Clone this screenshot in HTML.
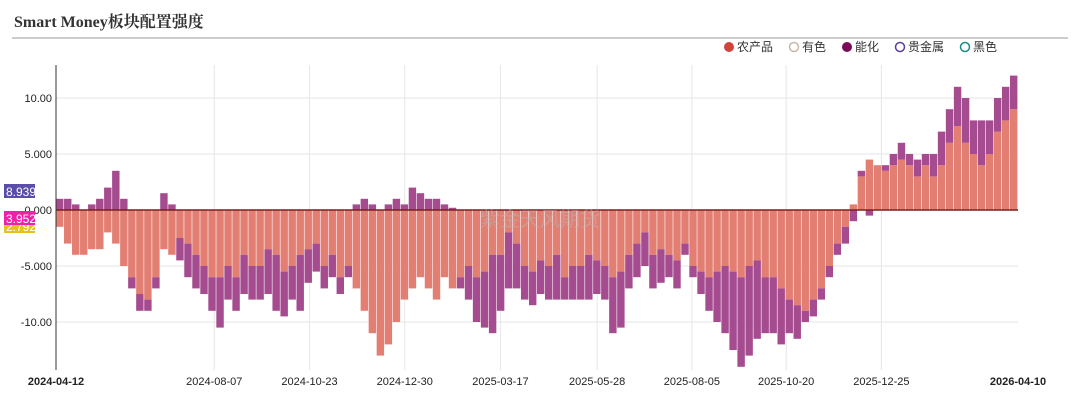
<!DOCTYPE html>
<html><head><meta charset="utf-8"><style>
body{margin:0;background:#fff;width:1080px;height:408px;overflow:hidden;font-family:"Liberation Sans","Noto Sans CJK SC",sans-serif}
</style></head><body>
<svg width="1080" height="408" id="chart" xmlns="http://www.w3.org/2000/svg">
<text x="14" y="27" font-size="16" font-weight="bold" fill="#333" font-family="Liberation Serif,Noto Serif CJK SC,serif">Smart Money板块配置强度</text>
<line x1="12" y1="38" x2="1068" y2="38" stroke="#999"/>
<g id="legend" font-size="12" fill="#333">
<g><circle cx="729" cy="47" r="5" fill="#d0443a"/><text x="737" y="51">农产品</text></g>
<g><circle cx="794" cy="47" r="4.5" fill="none" stroke="#c9b8a8" stroke-width="1.5"/><text x="802" y="51">有色</text></g>
<g><circle cx="847" cy="47" r="5" fill="#7a0a5a"/><text x="855" y="51">能化</text></g>
<g><circle cx="900" cy="47" r="4.5" fill="none" stroke="#5a3fa0" stroke-width="1.5"/><text x="908" y="51">贵金属</text></g>
<g><circle cx="965" cy="47" r="4.5" fill="none" stroke="#1a8a8a" stroke-width="1.5"/><text x="973" y="51">黑色</text></g>
</g>
<g id="grid"></g><g id="bars"></g><g id="axes"></g>
<text x="540" y="226" font-size="20" fill="#bbb" fill-opacity="0.45" text-anchor="middle">紫金天风期货</text>
</svg>
<script>
const yTicks=[10,5,0,-5,-10];
const yTickLabels=["10.00","5.000","0.000","-5.000","-10.00"];
const xTickLabels=["2024-04-12","2024-08-07","2024-10-23","2024-12-30","2025-03-17","2025-05-28","2025-08-05","2025-10-20","2025-12-25","2026-04-10"];
const xTickPos=[0,0.1645,0.2635,0.3625,0.462,0.5625,0.661,0.759,0.858,1];
const agri=[-1.5,-3,-4,-4,-3.5,-3.5,-2,-3,-5,-6,-7.5,-8,-6,-3.5,-4,-2.5,-3,-4,-5,-6,-6,-5,-6,-4,-5,-5,-3.5,-4,-5.5,-5,-4,-3.5,-3,-5,-4,-6,-5,-7,-9,-11,-13,-12,-10,-8,-7,-6,-7,-8,-6,-7,-6,-5,-6,-5.5,-4,-4,-2,-3,-5,-5.5,-4.5,-5,-4,-6,-5,-5,-4,-4.5,-5,-6,-5.5,-4,-3,-2,-4,-3.5,-4,-4.5,-3,-5,-5.5,-6,-5.5,-5,-5.5,-6,-5,-4.5,-6,-6,-7,-8,-8.5,-9,-8,-7,-5,-3,-1.5,0.5,3,4.5,4,3.5,4,4.5,4,3,4,3,4,6,7.5,6,5,4,5,7,8,9];
const energy=[1,1,0.5,0,0.5,1,2,3.5,1,-1,-1.5,-1,-1,1.5,0.5,-2,-3,-3,-2.5,-3,-4.5,-3,-3,-3.5,-3,-3,-4,-5,-4,-3,-5,-3,-2.5,-2,-2,-1.5,-1,0.5,1,0.5,0,0.5,1,0.5,2,1.5,1,1,0.5,0.2,-1,-3,-4,-5,-7,-5,-5,-4,-3,-3,-3,-3,-4,-2,-3,-3,-4,-3,-3,-5,-5,-3,-3,-3,-3,-3,-2,-2.5,-1,-1,-2,-3,-4.5,-6,-7,-8,-8,-7,-5,-5,-5,-3,-3,-1,-1.5,-1,-1,-1,-1.5,-1,0.5,-0.5,0,0.5,1,1.5,1,1.5,1,2,3,3,3.5,4,3,4,3,3,3,3];
const X0=56,X1=1018,Y0=210,K=11.2,YT=65,YB=370;
const y=v=>Y0-v*K;
const xb=i=>X0+i*(X1-X0)/agri.length;
const NS="http://www.w3.org/2000/svg";
function mk(t,a,p){const e=document.createElementNS(NS,t);for(const k in a)e.setAttribute(k,a[k]);p.appendChild(e);return e;}
const grid=document.getElementById('grid'),bars=document.getElementById('bars'),axes=document.getElementById('axes');
yTicks.forEach((v,i)=>{
 const l=mk('line',{x1:X0,x2:X1,y1:y(v),y2:y(v),stroke:'#e6e6e6'},grid);
 
 
 const t=mk('text',{x:X0-4,y:y(v)+4,'font-size':11,'text-anchor':'end',fill:'#222'},axes);
 t.textContent=yTickLabels[i];
 
 
});
xTickPos.forEach((p,i)=>{
 const xx=X0+p*(X1-X0);
 if(i>0&&i<xTickPos.length-1){
  const l=mk('line',{x1:xx,x2:xx,y1:YT,y2:YB,stroke:'#e6e6e6'},grid);
  
  
 }
 const t=mk('text',{x:xx,y:385,'font-size':11,'text-anchor':'middle',fill:'#222','font-weight':(i==0||i==xTickPos.length-1)?'bold':'normal'},axes);
 t.textContent=xTickLabels[i];
 
 
});
const w=(X1-X0)/agri.length;
agri.forEach((a,i)=>{
 const e=energy[i];
 const x=xb(i);
 const r=mk('rect',{x:x,width:w-0.6,y:Math.min(y(0),y(a)),height:Math.abs(a*K),fill:'#e27e72'},bars);
 
 
 const base=(Math.sign(e)===Math.sign(a))?a:0;
 const r2=mk('rect',{x:x,width:w-0.6,y:Math.min(y(base),y(base+e)),height:Math.abs(e*K),fill:'#a54b8f'},bars);
 
 
});
const z=mk('line',{x1:X0,x2:X1,y1:y(0),y2:y(0),stroke:'#7a2020','stroke-width':1.5},axes);


const ax=mk('line',{x1:X0,x2:X0,y1:YT,y2:YB,stroke:'#333'},axes);


const tags=[[8.939,'#5a4ea8','#fff',191,'8.939'],[2.7,'#e8c020','#fff',226,'2.792'],[3.952,'#ee22aa','#fff',218,'3.952']];
tags.forEach(t=>{
 const g=mk('g',{},axes);
 
 
 mk('rect',{x:4,y:t[3]-7,width:31,height:14,fill:t[1]},g);
 const tx=mk('text',{x:6,y:t[3]+5,'font-size':12,fill:t[2]},g);
 tx.textContent=t[4];
});
</script>
</body></html>
